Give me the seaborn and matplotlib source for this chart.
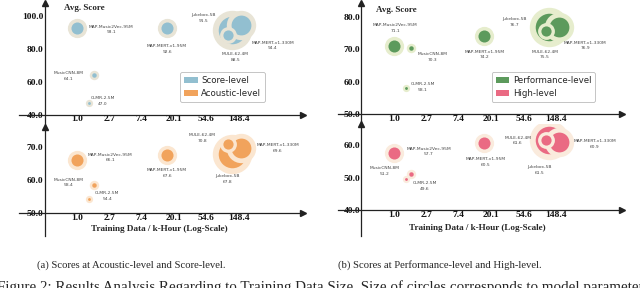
import numpy as np
import pandas as pd
import seaborn as sns
import matplotlib.pyplot as plt
from matplotlib.patches import Patch

# models, size (M params) and training data (k-hours)
models = ['MAP-Music2Vec-95M', 'MusicCNN-8M', 'CLMR-2.5M', 'MAP-MERT-v1-95M',
          'MULE-62.4M', 'Jukebox-5B', 'MAP-MERT-v1-330M']
params_m = [95, 8, 2.5, 95, 62.4, 5000, 330]
hours_k = [1.0, 1.7, 1.45, 16, 108, 120, 160]

# average scores per task level
score_level = [93.1, 64.1, 47.0, 92.6, 88.5, 91.5, 94.4]
acoustic_level = [66.1, 58.4, 54.4, 67.6, 70.8, 67.8, 69.6]
performance_level = [71.1, 70.3, 58.1, 74.2, 75.5, 76.7, 76.9]
high_level = [57.7, 51.2, 49.6, 60.5, 61.6, 61.5, 60.9]

SERIF = ['Liberation Serif', 'DejaVu Serif']
SANS = ['DejaVu Sans']
AXIS_COLOR = '#222222'

sns.set_style('white')
# tick labels: bold serif
plt.rcParams['font.family'] = SERIF
plt.rcParams['font.weight'] = 'bold'

W, H = 640, 288
fig = plt.figure(figsize=(W / 100, H / 100), dpi=100)


def px_rect(x0, y0, x1, y1):
    return [x0 / W, 1 - y1 / H, (x1 - x0) / W, (y1 - y0) / H]


def bubble_r(p):
    # radius in pixels, large models capped
    return np.sqrt(0.95 * min(p, 750) ** 0.8)


def draw_panel(rect, ln_range, ylim, base, yticks, scores, color, halo, offsets):
    ax = fig.add_axes(px_rect(*rect))
    ax.set_facecolor('none')
    df = pd.DataFrame({'model': models, 'hours': hours_k,
                       'params': params_m, 'score': scores})
    df = df.sort_values('params', ascending=False)
    for _, row in df.iterrows():
        r = bubble_r(row.params)
        rh = 1.3 * r + 1.8
        sns.scatterplot(x=[row.hours], y=[row.score], s=(1.44 * rh) ** 2, color=halo,
                        linewidth=0, ax=ax, legend=False, zorder=2)
        sns.scatterplot(x=[row.hours], y=[row.score], s=(1.44 * r) ** 2, color=color,
                        linewidth=0, ax=ax, legend=False, zorder=2)
        dx, dy = offsets[row.model]
        ax.annotate(f'{row.model}\n{row.score:.1f}', (row.hours, row.score),
                    xytext=(dx, -dy), textcoords='offset pixels', ha='center', va='center',
                    family=SANS, weight='normal', fontsize=3.2, color='#444444',
                    linespacing=1.5, zorder=3)

    ax.set_xscale('log')
    ax.set_xlim(np.exp(ln_range[0]), np.exp(ln_range[1]))
    ax.set_ylim(*ylim)
    ax.minorticks_off()

    xt = np.exp(np.arange(7))
    ax.set_xticks(xt)
    ax.set_xticklabels([f'{v:.1f}' for v in xt[:-1]] + [''])
    ax.set_yticks(yticks)
    ax.set_yticklabels([f'{v:.1f}' for v in yticks])
    ax.get_yticklabels()[0].set_va('bottom')

    ax.set_xlabel('')
    ax.set_ylabel('')
    for s in ['top', 'right']:
        ax.spines[s].set_visible(False)
    ax.spines['left'].set_position(('data', np.exp(-1)))
    ax.spines['bottom'].set_position(('data', base))
    for s in ['left', 'bottom']:
        ax.spines[s].set_color(AXIS_COLOR)
        ax.spines[s].set_linewidth(0.9)
    ax.tick_params(direction='in', length=3, width=0.8, color=AXIS_COLOR, pad=1,
                   labelsize=6.8, labelcolor='#111111')
    ax.tick_params(axis='x', pad=0.5)

    # arrow heads
    ax.plot(1, base, '>', color=AXIS_COLOR, ms=4.5, transform=ax.get_yaxis_transform(), clip_on=False)
    ax.plot(np.exp(-1), 1, '^', color=AXIS_COLOR, ms=4.5, transform=ax.get_xaxis_transform(), clip_on=False)
    return ax


BLUE, BLUE_H = '#92BFD0', '#E8E4D6'
ORANGE, ORANGE_H = '#F1A35C', '#FBE6D0'
GREEN, GREEN_H = '#5C9A5C', '#E6EDCD'
PINK, PINK_H = '#EA6A83', '#FAEBDD'

off_tl = {'MAP-Music2Vec-95M': (34, 1.7), 'MusicCNN-8M': (-26, 1), 'CLMR-2.5M': (14, -2),
          'MAP-MERT-v1-95M': (0.5, 20.4), 'MULE-62.4M': (7, 22), 'Jukebox-5B': (-28, -12),
          'MAP-MERT-v1-330M': (32, 20)}
off_bl = {'MAP-Music2Vec-95M': (33, -2), 'MusicCNN-8M': (-25.6, -2.6), 'CLMR-2.5M': (18, -2.6),
          'MAP-MERT-v1-95M': (0.5, 18.3), 'MULE-62.4M': (-26, -6), 'Jukebox-5B': (-4, 25),
          'MAP-MERT-v1-330M': (37, 0)}
off_tr = {'MAP-Music2Vec-95M': (1.5, -17.6), 'MusicCNN-8M': (21, 9), 'CLMR-2.5M': (17, -1),
          'MAP-MERT-v1-95M': (1, 19), 'MULE-62.4M': (-1, 23), 'Jukebox-5B': (-34.5, -5.4),
          'MAP-MERT-v1-330M': (26.5, 19)}
off_br = {'MAP-Music2Vec-95M': (35, -1), 'MusicCNN-8M': (-27, -2.6), 'CLMR-2.5M': (19, 7),
          'MAP-MERT-v1-95M': (1.5, 18.6), 'MULE-62.4M': (-28, 0.7), 'Jukebox-5B': (-10, 30),
          'MAP-MERT-v1-330M': (36, 2)}

# (a) left panel
draw_panel((19, 3, 303, 128), (-1.8, 7.0), (31.9, 108.1), 40, [40, 60, 80, 100],
           score_level, BLUE, BLUE_H, off_tl)
draw_panel((19, 127, 303, 236), (-1.8, 7.0), (43.2, 75.9), 50, [50, 60, 70],
           acoustic_level, ORANGE, ORANGE_H, off_bl)
# (b) right panel
draw_panel((338, 3, 622, 125), (-1.72, 7.02), (46.7, 84.2), 50, [50, 60, 70, 80],
           performance_level, GREEN, GREEN_H, off_tr)
draw_panel((338, 124, 622, 236), (-1.72, 7.02), (32.0, 66.5), 40, [40, 50, 60],
           high_level, PINK, PINK_H, off_br)


def fig_text(x, y, s, **kw):
    fig.text(x / W, 1 - y / H, s, **kw)


for x, y in [(64, 8), (376, 10)]:
    fig_text(x, y, 'Avg. Score', ha='left', va='center', family=SERIF, weight='bold', fontsize=6.5)
for x, y in [(159, 229), (477, 228)]:
    fig_text(x, y, 'Training Data / k-Hour (Log-Scale)', ha='center', va='center',
             family=SERIF, weight='bold', fontsize=6.6)

for (x, y), labels in [((180, 72), ['Score-level', 'Acoustic-level']),
                       ((491.7, 72), ['Performance-level', 'High-level'])]:
    cols = [BLUE, ORANGE] if x < 320 else [GREEN, PINK]
    handles = [Patch(facecolor=c, edgecolor='none', label=l) for c, l in zip(cols, labels)]
    leg = fig.legend(handles=handles, loc='upper left', bbox_to_anchor=(x / W, 1 - y / H),
                     prop={'family': SANS, 'weight': 'normal', 'size': 6.2},
                     frameon=True, fancybox=True, borderpad=0.45,
                     labelspacing=0.5, handlelength=1.6, handleheight=0.8,
                     handletextpad=0.4, borderaxespad=0)
    leg.get_frame().set_edgecolor('#AAAAAA')
    leg.get_frame().set_linewidth(0.6)

fig_text(131, 265, '(a) Scores at Acoustic-level and Score-level.', ha='center', va='center',
         family=SERIF, weight='normal', fontsize=7.7)
fig_text(440, 265, '(b) Scores at Performance-level and High-level.', ha='center', va='center',
         family=SERIF, weight='normal', fontsize=7.7)
# figure caption, cut off by the bottom edge as in the source page
fig_text(-3, 291, 'Figure 2: Results Analysis Regarding to Training Data Size. '
         'Size of circles corresponds to model parameters, not applicable',
         ha='left', va='baseline', family=SERIF, weight='normal', fontsize=10.8)

fig.savefig('out.png', dpi=100)
